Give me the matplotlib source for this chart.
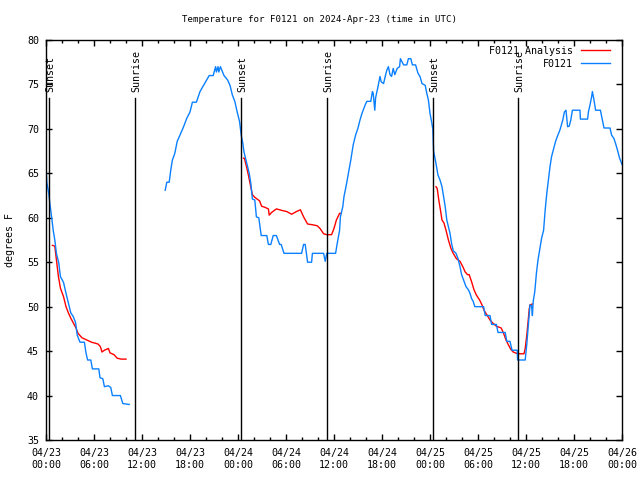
#!/usr/bin/env python3
"""Station temperature vs analysis, 2024-Apr-23 (time in UTC)."""

import matplotlib
matplotlib.use("Agg")
import matplotlib.dates as mdates
import matplotlib.pyplot as plt
import pandas as pd

START = pd.Timestamp("2024-04-23 00:00")

# station observations, hours after START / degrees F
obs_hours_1 = [0.0, 0.1, 0.35, 0.5, 0.7, 0.9, 1.1, 1.3, 1.6, 1.8, 2.2, 2.5, 2.8, 3.1, 3.4, 3.7, 3.9,
               4.25, 4.8, 5.0, 5.2, 5.6, 5.8, 6.6, 6.75, 7.1, 7.3, 7.8, 8.1, 8.3, 9.3, 9.6, 10.4]
obs_temps_1 = [66.0, 64.0, 62.7, 61.5, 60.1, 58.6, 57.5, 56.0, 54.9, 53.4, 52.7, 51.5, 50.4, 49.3, 48.9, 48.2, 46.8,
               46.0, 46.0, 44.8, 44.0, 44.0, 43.0, 43.0, 42.0, 41.9, 41.0, 41.1, 40.9, 40.0, 40.0, 39.1, 39.0]

obs_hours_2 = [14.9, 15.1, 15.4, 15.6, 15.8, 16.1, 16.4, 16.75, 17.2, 17.6, 18.0, 18.3, 18.8, 19.25, 19.7,
               20.1, 20.4, 20.9, 21.2, 21.3, 21.5, 21.6, 21.8, 22.25, 22.7, 23.0, 23.3, 23.6, 23.9, 24.2,
               24.4, 24.6, 24.75, 25.0, 25.2, 25.4, 25.6, 25.8, 26.1, 26.3, 26.6, 26.9, 27.6, 27.8, 28.1,
               28.4, 28.8, 29.2, 29.4, 29.75, 31.95, 32.2, 32.4, 32.7, 33.2, 33.3, 34.7, 34.9, 35.1, 36.2,
               36.4, 36.7, 36.8, 37.1, 37.25, 37.5, 37.8, 38.1, 38.4, 38.7, 39.0, 39.25, 39.5, 39.9, 40.1,
               40.6, 40.8, 40.9, 41.1, 41.2, 41.5, 41.75, 41.9, 42.2, 42.4, 42.6, 42.8, 43.0, 43.2, 43.4,
               43.6, 43.9, 44.2, 44.3, 44.7, 45.1, 45.3, 45.6, 45.8, 46.2, 46.5, 46.75, 47.0, 47.4, 47.6,
               47.8, 48.0, 48.2, 48.35, 48.45, 48.75, 49.0, 49.25, 49.5, 49.7, 49.9, 50.1, 50.3, 50.5, 50.7,
               50.9, 51.25, 51.5, 51.75, 51.95, 52.2, 52.5, 52.8, 53.0, 53.2, 53.4, 53.6, 54.7, 54.9, 55.5,
               55.7, 56.3, 56.5, 57.4, 57.6, 58.0, 58.25, 58.9, 58.95, 59.9, 60.1, 60.3, 60.5, 60.7, 60.8,
               60.9, 61.1, 61.3, 61.5, 61.75, 61.95, 62.2, 62.4, 62.6, 62.8, 63.0, 63.2, 63.4, 63.7, 63.9,
               64.25, 64.6, 64.8, 65.0, 65.2, 65.4, 65.6, 65.8, 66.75, 66.8, 67.7, 67.8, 68.0, 68.2, 68.3,
               68.5, 68.7, 69.3, 69.5, 69.75, 70.5, 70.7, 71.0, 71.25, 71.5, 71.7, 72.0]
obs_temps_2 = [63.1, 64.0, 64.0, 65.4, 66.5, 67.25, 68.6, 69.3, 70.25, 71.2, 71.9, 73.0, 73.0, 74.2, 74.9,
               75.5, 76.0, 76.0, 77.0, 76.4, 77.0, 76.4, 77.0, 76.0, 75.5, 74.9, 73.8, 73.1, 71.9, 70.8,
               69.3, 68.4, 67.4, 66.5, 65.75, 65.0, 63.9, 62.1, 62.0, 60.1, 60.0, 58.0, 58.0, 57.0, 57.0,
               58.0, 58.0, 57.0, 57.0, 56.0, 56.0, 57.0, 57.0, 55.0, 55.0, 56.0, 56.0, 55.1, 56.0, 56.0,
               57.1, 58.6, 60.1, 61.25, 62.4, 63.5, 65.0, 66.5, 68.2, 69.3, 70.1, 71.0, 71.75, 72.7, 73.1,
               73.1, 74.2, 74.0, 72.1, 73.5, 74.75, 75.9, 75.3, 75.1, 75.9, 76.6, 77.0, 76.1, 75.9, 76.8,
               76.1, 76.8, 77.0, 77.9, 77.2, 77.2, 77.9, 77.9, 77.2, 77.2, 76.25, 75.9, 75.1, 74.9, 74.0,
               73.25, 71.75, 70.8, 70.0, 67.5, 66.1, 64.8, 64.25, 63.5, 62.4, 61.25, 59.75, 59.0, 58.25, 57.1,
               56.3, 56.0, 55.4, 54.5, 53.6, 53.0, 52.25, 51.9, 51.5, 50.9, 50.6, 50.0, 50.0, 49.0, 49.0,
               48.0, 48.0, 47.1, 47.1, 46.1, 46.1, 45.1, 45.1, 44.0, 44.0, 45.8, 48.0, 50.2, 50.1, 49.0,
               50.6, 51.7, 53.75, 55.25, 56.6, 57.7, 58.6, 60.9, 62.75, 64.25, 65.75, 66.9, 67.6, 68.6, 69.1,
               69.9, 71.0, 71.9, 72.1, 70.25, 70.3, 71.0, 72.1, 72.1, 71.1, 71.1, 71.9, 72.7, 73.6, 74.2,
               73.25, 72.1, 72.1, 71.2, 70.1, 70.1, 69.3, 68.9, 68.2, 67.4, 66.7, 66.0]

# analysis, three overnight pieces
ana_hours_1 = [0.8, 1.1, 1.3, 1.55, 1.8, 2.2, 2.5, 2.8, 3.1, 3.4, 3.75, 4.0, 4.5, 5.1, 5.7, 6.5, 6.8,
               7.0, 7.3, 7.8, 8.0, 8.5, 8.9, 9.4, 10.0]
ana_temps_1 = [56.9, 56.8, 55.3, 53.4, 52.1, 51.1, 50.0, 49.3, 48.7, 48.2, 47.6, 47.0, 46.5, 46.25, 46.0, 45.8, 45.5,
               44.9, 45.1, 45.3, 44.8, 44.6, 44.2, 44.1, 44.1]
ana_hours_2 = [24.7, 24.8, 25.1, 25.3, 25.5, 25.8, 26.1, 26.7, 26.95, 27.3, 27.8, 27.9, 28.2, 28.8, 29.6,
               30.1, 30.7, 31.3, 31.8, 32.2, 32.7, 33.4, 33.9, 34.25, 34.7, 35.1, 35.7, 36.0, 36.3, 36.7, 36.85]
ana_temps_2 = [66.7, 66.7, 65.6, 64.8, 63.9, 62.6, 62.3, 61.9, 61.3, 61.2, 61.0, 60.3, 60.6, 61.0, 60.8,
               60.7, 60.4, 60.7, 60.9, 60.1, 59.3, 59.2, 59.1, 58.8, 58.2, 58.1, 58.1, 58.8, 59.75, 60.5, 60.5]
ana_hours_3 = [48.75, 48.9, 49.1, 49.3, 49.5, 49.75, 50.0, 50.3, 50.6, 50.9, 51.3, 51.75, 52.1, 52.4, 52.7,
               52.9, 53.2, 53.5, 53.8, 54.2, 54.5, 54.75, 55.1, 55.5, 55.8, 56.3, 56.9, 57.2, 57.5, 57.8,
               58.1, 58.4, 58.8, 59.25, 59.75, 59.9, 60.1, 60.3, 60.4, 60.5, 60.8]
ana_temps_3 = [63.5, 63.3, 62.0, 60.9, 59.75, 59.4, 58.6, 57.5, 56.6, 56.0, 55.4, 55.1, 54.5, 53.9, 53.6,
               53.6, 52.8, 51.9, 51.3, 50.75, 50.2, 49.6, 49.1, 48.5, 48.2, 47.8, 47.6, 47.0, 46.25, 45.7,
               45.2, 44.9, 44.75, 44.7, 44.7, 45.3, 46.8, 48.7, 49.7, 50.2, 50.3]

sun_labels = ["Sunset", "Sunrise", "Sunset", "Sunrise", "Sunset", "Sunrise"]
sun_hours = [0.41, 11.17, 24.42, 35.17, 48.42, 59.04]

RED = "#ff0000"
BLUE = "#0a80ff"


def to_time(hours):
    return START + pd.to_timedelta(hours, unit="h")


def main():
    plt.rcParams["font.family"] = ["DejaVu Sans Mono"]
    plt.rcParams["font.size"] = 7.2

    fig = plt.figure(figsize=(6.4, 4.8), dpi=100)
    ax = fig.add_axes([46 / 640, 40 / 480, 576 / 640, 400 / 480])

    for h, t in [(ana_hours_1, ana_temps_1), (ana_hours_2, ana_temps_2), (ana_hours_3, ana_temps_3)]:
        ax.plot(to_time(h), t, color=RED, lw=1.0)
    for h, t in [(obs_hours_1, obs_temps_1), (obs_hours_2, obs_temps_2)]:
        ax.plot(to_time(h), t, color=BLUE, lw=1.0)

    # dummy handles so the legend order matches
    red_h, = ax.plot([], [], color=RED, lw=1.0, label="F0121 Analysis")
    blue_h, = ax.plot([], [], color=BLUE, lw=1.0, label="F0121")

    for lab, h in zip(sun_labels, sun_hours):
        t = to_time([h])[0]
        ax.plot([t, t], [35, 73.5], color="black", lw=1.0)
        ax.text(t + pd.Timedelta(minutes=10), 74.1, lab, rotation=90, ha="center", va="bottom")

    ax.set_xlim(to_time([0])[0], to_time([72])[0])
    ax.set_ylim(35, 80)
    ax.set_yticks(range(35, 81, 5))
    ax.xaxis.set_major_locator(mdates.HourLocator(byhour=[0, 6, 12, 18]))
    ax.xaxis.set_minor_locator(mdates.HourLocator(byhour=range(0, 24, 2)))
    ax.xaxis.set_major_formatter(mdates.DateFormatter("%m/%d\n%H:%M"))

    ax.tick_params(which="both", direction="in", top=True, right=True, width=1.0)
    ax.tick_params(which="major", length=4.5)
    ax.tick_params(which="minor", length=2.2)
    ax.tick_params(axis="x", pad=6)
    ax.tick_params(axis="y", pad=5)
    for sp in ax.spines.values():
        sp.set_linewidth(1.0)

    ax.set_ylabel("degrees F")
    ax.yaxis.set_label_coords(-0.054, 0.5)

    fig.text(0.5, 1 - 19 / 480, "Temperature for F0121 on 2024-Apr-23 (time in UTC)",
             ha="center", va="center", fontsize=6.6)

    ax.legend(handles=[red_h, blue_h], loc="upper right", bbox_to_anchor=(0.986, 0.995), frameon=False,
              markerfirst=False, handlelength=2.9, handletextpad=0.8, labelspacing=0.3,
              borderaxespad=0.2, borderpad=0.2)

    fig.savefig("out.png", dpi=100)
    plt.close(fig)


if __name__ == "__main__":
    main()
